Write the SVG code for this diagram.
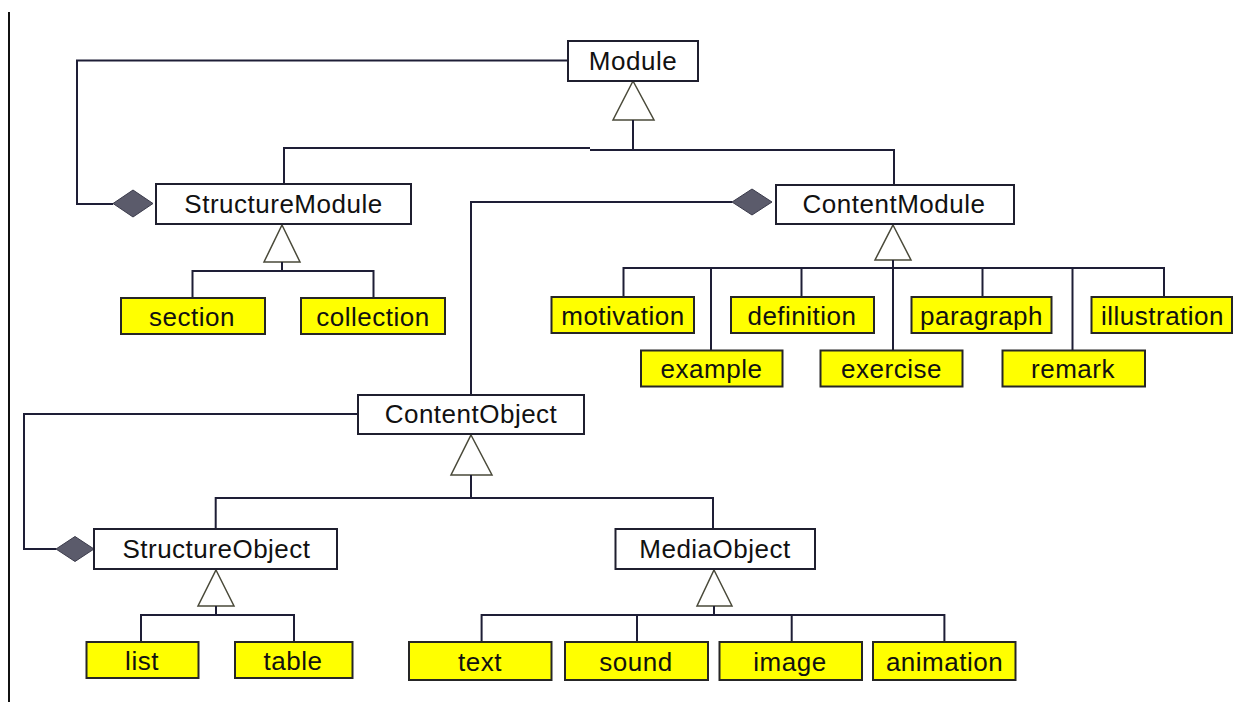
<svg xmlns="http://www.w3.org/2000/svg" width="1234" height="702" viewBox="0 0 1234 702">
<style>
.box{fill:#ffffff;stroke:#1f1f2f;stroke-width:2}
.ybox{fill:#ffff00;stroke:#262626;stroke-width:2}
.lbl{font-family:"Liberation Sans",Arial,sans-serif;font-size:26px;fill:#111111;text-anchor:middle;letter-spacing:0.5px}
.conn{fill:none;stroke:#1e1e36;stroke-width:2}
.tri{fill:#ffffff;stroke:#4a4a3a;stroke-width:1.5}
.dia{fill:#5b5b6b;stroke:#3b3b4b;stroke-width:1}
</style>
<rect x="0" y="0" width="1234" height="702" fill="#ffffff"/>
<line x1="9" y1="12" x2="9" y2="702" stroke="#111111" stroke-width="2"/>
<g id="connectors">
  <!-- Module composition to StructureModule -->
  <polyline class="conn" points="568,60.5 77,60.5 77,204 113,204"/>
  <polygon class="dia" points="113,203.5 133,190 153,203.5 133,217"/>
  <!-- Module generalization -->
  <polygon class="tri" points="633,81 654,120 613,120"/>
  <polyline class="conn" points="633,120 633,150"/>
  <polyline class="conn" points="284,184 284,148 590,148"/>
  <polyline class="conn" points="590,150 894,150 894,185"/>
  <!-- StructureModule generalization -->
  <polygon class="tri" points="282,225 300,262 264,262"/>
  <polyline class="conn" points="282,262 282,271"/>
  <polyline class="conn" points="192.5,298 192.5,271 373.5,271 373.5,298"/>
  <!-- ContentModule composition to ContentObject -->
  <polyline class="conn" points="732,202 471,202 471,395"/>
  <polygon class="dia" points="732,202 752,189 772,202 752,215"/>
  <!-- ContentModule generalization -->
  <polygon class="tri" points="893,225 911,260 875,260"/>
  <polyline class="conn" points="893,260 893,350"/>
  <polyline class="conn" points="623.5,297 623.5,268 1164,268 1164,297"/>
  <line class="conn" x1="711" y1="268" x2="711" y2="350"/>
  <line class="conn" x1="801.5" y1="268" x2="801.5" y2="297"/>
  <line class="conn" x1="982.5" y1="268" x2="982.5" y2="297"/>
  <line class="conn" x1="1072.5" y1="268" x2="1072.5" y2="350"/>
  <!-- ContentObject composition to StructureObject -->
  <polyline class="conn" points="358,414 24,414 24,549 56,549"/>
  <polygon class="dia" points="56,549 75,536.5 94,549 75,561.5"/>
  <!-- ContentObject generalization -->
  <polygon class="tri" points="471,435 492,475 451,475"/>
  <polyline class="conn" points="471,475 471,498"/>
  <polyline class="conn" points="215.7,529 215.7,498 713,498 713,529"/>
  <!-- StructureObject generalization -->
  <polygon class="tri" points="216,570 234,606 198,606"/>
  <polyline class="conn" points="216,606 216,615"/>
  <polyline class="conn" points="141,642 141,615 294,615 294,642"/>
  <!-- MediaObject generalization -->
  <polygon class="tri" points="714,570 732,606 697,606"/>
  <polyline class="conn" points="714,606 714,615"/>
  <polyline class="conn" points="481.6,642 481.6,615 944.4,615 944.4,642"/>
  <line class="conn" x1="637" y1="615" x2="637" y2="642"/>
  <line class="conn" x1="791.7" y1="615" x2="791.7" y2="642"/>
</g>
<g id="Module"><rect class="box" x="568" y="41" width="130" height="40"/><text class="lbl" x="633" y="70">Module</text></g>
<g id="StructureModule"><rect class="box" x="156" y="184" width="255" height="40"/><text class="lbl" x="283.5" y="213">StructureModule</text></g>
<g id="ContentModule"><rect class="box" x="776" y="185" width="238" height="39"/><text class="lbl" x="894" y="213">ContentModule</text></g>
<g id="ContentObject"><rect class="box" x="358" y="395" width="226" height="39"/><text class="lbl" x="471" y="423">ContentObject</text></g>
<g id="StructureObject"><rect class="box" x="94" y="529" width="243" height="40"/><text class="lbl" x="216.5" y="558">StructureObject</text></g>
<g id="MediaObject"><rect class="box" x="615.5" y="529" width="199.5" height="40"/><text class="lbl" x="715" y="558">MediaObject</text></g>
<g id="section"><rect class="ybox" x="121" y="298" width="144" height="36"/><text class="lbl" x="192" y="325.5">section</text></g>
<g id="collection"><rect class="ybox" x="301" y="298" width="144" height="36"/><text class="lbl" x="373" y="325.5">collection</text></g>
<g id="motivation"><rect class="ybox" x="551.5" y="297" width="142.5" height="36"/><text class="lbl" x="623" y="324.5">motivation</text></g>
<g id="definition"><rect class="ybox" x="731" y="297" width="143" height="36"/><text class="lbl" x="802" y="324.5">definition</text></g>
<g id="paragraph"><rect class="ybox" x="911.5" y="297" width="140" height="36"/><text class="lbl" x="981.5" y="324.5">paragraph</text></g>
<g id="illustration"><rect class="ybox" x="1091.5" y="297" width="140.5" height="36"/><text class="lbl" x="1162.5" y="324.5">illustration</text></g>
<g id="example"><rect class="ybox" x="641" y="350.5" width="141.5" height="36"/><text class="lbl" x="711.5" y="378">example</text></g>
<g id="exercise"><rect class="ybox" x="820.5" y="350.5" width="142" height="36"/><text class="lbl" x="891.5" y="378">exercise</text></g>
<g id="remark"><rect class="ybox" x="1002.5" y="350.5" width="142.5" height="36"/><text class="lbl" x="1073" y="378">remark</text></g>
<g id="list"><rect class="ybox" x="86.5" y="642" width="112" height="36"/><text class="lbl" x="142" y="669.5">list</text></g>
<g id="table"><rect class="ybox" x="235" y="642" width="117.5" height="36"/><text class="lbl" x="293" y="669.5">table</text></g>
<g id="text"><rect class="ybox" x="409" y="642" width="142.5" height="38"/><text class="lbl" x="480" y="670.5">text</text></g>
<g id="sound"><rect class="ybox" x="565" y="642" width="143" height="38"/><text class="lbl" x="636" y="670.5">sound</text></g>
<g id="image"><rect class="ybox" x="719.5" y="642" width="142.5" height="38"/><text class="lbl" x="790" y="670.5">image</text></g>
<g id="animation"><rect class="ybox" x="873" y="642" width="142.5" height="38"/><text class="lbl" x="944.5" y="670.5">animation</text></g>
</svg>
